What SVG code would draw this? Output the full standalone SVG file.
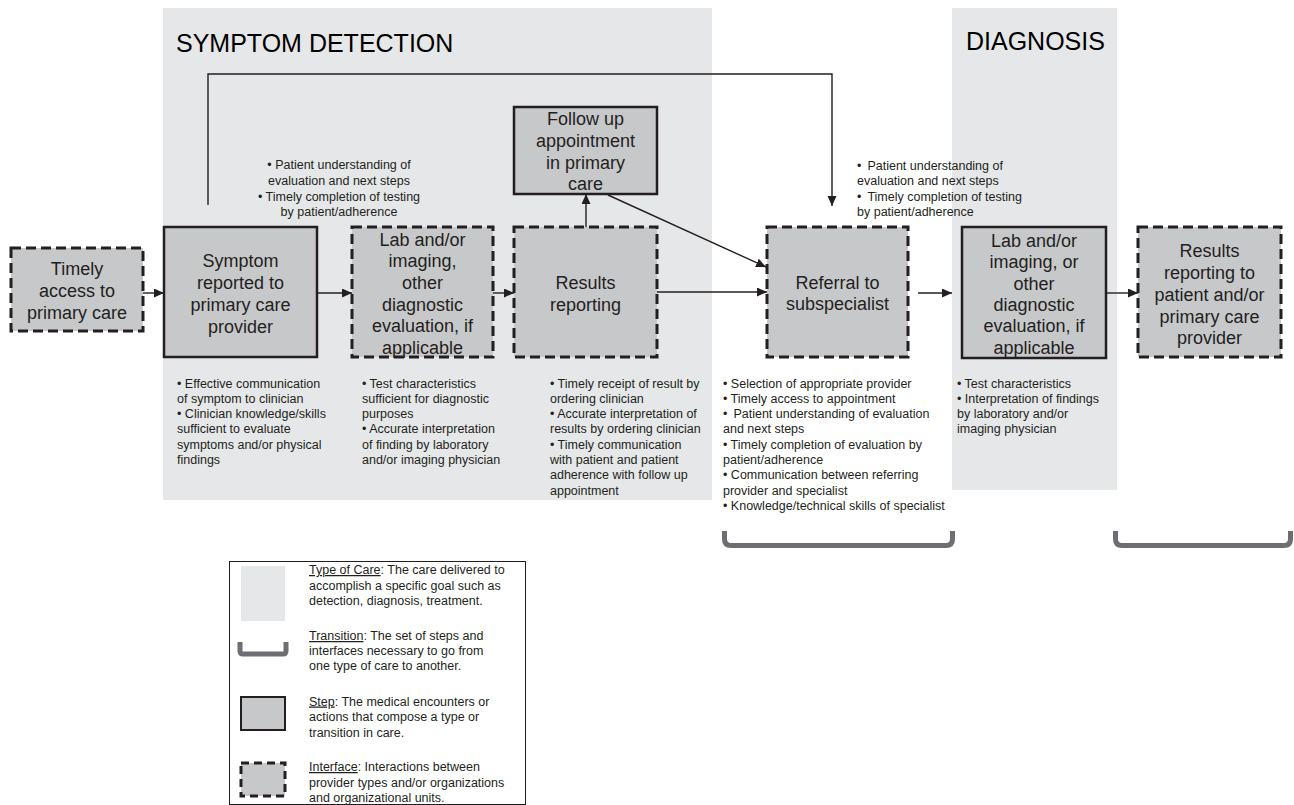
<svg xmlns="http://www.w3.org/2000/svg" width="1294" height="805" viewBox="0 0 1294 805">
<style>
.panel{fill:#e6e7e8}
.step{fill:#c7c8ca;stroke:#231f20;stroke-width:2.5}
.iface{fill:#c7c8ca;stroke:#231f20;stroke-width:3;stroke-dasharray:10 5}
.nt{font-family:"Liberation Sans",Arial,sans-serif;font-size:18px;fill:#231f20;text-anchor:middle}
.title{font-family:"Liberation Sans",Arial,sans-serif;font-size:25px;fill:#000}
.sm{font-family:"Liberation Sans",Arial,sans-serif;font-size:12.5px;fill:#231f20}
.mid{text-anchor:middle}
.conn{fill:none;stroke:#231f20;stroke-width:1.4}
.br{fill:none;stroke:#6d6e71;stroke-width:5;stroke-linecap:butt}
.u{text-decoration:underline}
</style>
<defs>
<marker id="ah" markerUnits="userSpaceOnUse" markerWidth="11" markerHeight="10" refX="10" refY="4.5" orient="auto">
<path d="M0,0 L10,4.5 L0,9 z" fill="#231f20"/>
</marker>
</defs>

<g id="panels">
<rect class="panel" x="163" y="8" width="549" height="492"/>
<rect class="panel" x="952" y="8" width="165" height="482"/>
<text class="title" x="176" y="52">SYMPTOM DETECTION</text>
<text class="title" x="966" y="50">DIAGNOSIS</text>
</g>

<g id="connectors">
<path class="conn" d="M143,293 L164,293" marker-end="url(#ah)"/>
<path class="conn" d="M317,293 L352,293" marker-end="url(#ah)"/>
<path class="conn" d="M493,293 L514,293" marker-end="url(#ah)"/>
<path class="conn" d="M586,227 L586,194" marker-end="url(#ah)"/>
<path class="conn" d="M608,195 L766,267" marker-end="url(#ah)"/>
<path class="conn" d="M657,292 L767,292" marker-end="url(#ah)"/>
<path class="conn" d="M208,205 L208,74 L832,74 L832,206" marker-end="url(#ah)"/>
<path class="conn" d="M918,293 L952,293" marker-end="url(#ah)"/>
<path class="conn" d="M1106,293 L1138,293" marker-end="url(#ah)"/>
</g>

<g id="node-timely">
<rect class="iface" x="11" y="248" width="132" height="83"/>
<text class="nt" x="77" y="274.5">Timely</text>
<text class="nt" x="77" y="296.5">access to</text>
<text class="nt" x="77" y="318.5">primary care</text>
</g>

<g id="node-symptom">
<rect class="step" x="164" y="227" width="153" height="130"/>
<text class="nt" x="240.5" y="266.5">Symptom</text>
<text class="nt" x="240.5" y="288.5">reported to</text>
<text class="nt" x="240.5" y="310.5">primary care</text>
<text class="nt" x="240.5" y="332.5">provider</text>
</g>

<g id="node-lab1">
<rect class="iface" x="352" y="227" width="141" height="130"/>
<text class="nt" x="422.5" y="245.5">Lab and/or</text>
<text class="nt" x="422.5" y="267">imaging,</text>
<text class="nt" x="422.5" y="288.5">other</text>
<text class="nt" x="422.5" y="310.5">diagnostic</text>
<text class="nt" x="422.5" y="332">evaluation, if</text>
<text class="nt" x="422.5" y="353.5">applicable</text>
</g>

<g id="node-results">
<rect class="iface" x="514" y="227" width="143" height="130"/>
<text class="nt" x="585.5" y="288.5">Results</text>
<text class="nt" x="585.5" y="310.5">reporting</text>
</g>

<g id="node-followup">
<rect class="step" x="514" y="107" width="143" height="87"/>
<text class="nt" x="585.5" y="124.5">Follow up</text>
<text class="nt" x="585.5" y="146.5">appointment</text>
<text class="nt" x="585.5" y="168.5">in primary</text>
<text class="nt" x="585.5" y="189.5">care</text>
</g>

<g id="node-referral">
<rect class="iface" x="767" y="227" width="141" height="130"/>
<text class="nt" x="837.5" y="288.5">Referral to</text>
<text class="nt" x="837.5" y="310">subspecialist</text>
</g>

<g id="node-lab2">
<rect class="step" x="962" y="227" width="144" height="131"/>
<text class="nt" x="1034" y="246.5">Lab and/or</text>
<text class="nt" x="1034" y="268">imaging, or</text>
<text class="nt" x="1034" y="289.5">other</text>
<text class="nt" x="1034" y="310.5">diagnostic</text>
<text class="nt" x="1034" y="332">evaluation, if</text>
<text class="nt" x="1034" y="353.5">applicable</text>
</g>

<g id="node-results2">
<rect class="iface" x="1138" y="227" width="143" height="130"/>
<text class="nt" x="1209.5" y="256.5">Results</text>
<text class="nt" x="1209.5" y="278.5">reporting to</text>
<text class="nt" x="1209.5" y="300.5">patient and/or</text>
<text class="nt" x="1209.5" y="322.5">primary care</text>
<text class="nt" x="1209.5" y="343.5">provider</text>
</g>

<g id="notes-top">
<text class="sm mid" x="339" y="168.5">• Patient understanding of</text>
<text class="sm mid" x="339" y="184.5">evaluation and next steps</text>
<text class="sm mid" x="339" y="200.5">• Timely completion of testing</text>
<text class="sm mid" x="339" y="215.5">by patient/adherence</text>
<text class="sm" x="857" y="169.5">•<tspan dx="6">Patient understanding of</tspan></text>
<text class="sm" x="857" y="184.5">evaluation and next steps</text>
<text class="sm" x="857" y="200.5">•<tspan dx="6">Timely completion of testing</tspan></text>
<text class="sm" x="857" y="215.5">by patient/adherence</text>
</g>

<g id="notes-bottom">
<text class="sm" x="177" y="387.5">• Effective communication</text>
<text class="sm" x="177" y="402.8">of symptom to clinician</text>
<text class="sm" x="177" y="418.1">• Clinician knowledge/skills</text>
<text class="sm" x="177" y="433.4">sufficient to evaluate</text>
<text class="sm" x="177" y="448.7">symptoms and/or physical</text>
<text class="sm" x="177" y="464">findings</text>

<text class="sm" x="362" y="387.5">• Test characteristics</text>
<text class="sm" x="362" y="402.8">sufficient for diagnostic</text>
<text class="sm" x="362" y="418.1">purposes</text>
<text class="sm" x="362" y="433.4">• Accurate interpretation</text>
<text class="sm" x="362" y="448.7">of finding by laboratory</text>
<text class="sm" x="362" y="464">and/or imaging physician</text>

<text class="sm" x="550" y="387.5">• Timely receipt of result by</text>
<text class="sm" x="550" y="402.8">ordering clinician</text>
<text class="sm" x="550" y="418.1">• Accurate interpretation of</text>
<text class="sm" x="550" y="433.4">results by ordering clinician</text>
<text class="sm" x="550" y="448.7">• Timely communication</text>
<text class="sm" x="550" y="464">with patient and patient</text>
<text class="sm" x="550" y="479.3">adherence with follow up</text>
<text class="sm" x="550" y="494.6">appointment</text>

<text class="sm" x="723" y="387.5">• Selection of appropriate provider</text>
<text class="sm" x="723" y="402.8">• Timely access to appointment</text>
<text class="sm" x="723" y="418.1">•<tspan dx="6">Patient understanding of evaluation</tspan></text>
<text class="sm" x="723" y="433.4">and next steps</text>
<text class="sm" x="723" y="448.7">• Timely completion of evaluation by</text>
<text class="sm" x="723" y="464">patient/adherence</text>
<text class="sm" x="723" y="479.3">• Communication between referring</text>
<text class="sm" x="723" y="494.6">provider and specialist</text>
<text class="sm" x="723" y="509.9">• Knowledge/technical skills of specialist</text>

<text class="sm" x="957" y="387.5">• Test characteristics</text>
<text class="sm" x="957" y="402.8">• Interpretation of findings</text>
<text class="sm" x="957" y="418.1">by laboratory and/or</text>
<text class="sm" x="957" y="433.4">imaging physician</text>
</g>

<g id="transitions">
<path class="br" d="M724.5,531 L724.5,539 Q724.5,545.5 731,545.5 L946,545.5 Q952.5,545.5 952.5,539 L952.5,531"/>
<path class="br" d="M1115.5,531 L1115.5,539 Q1115.5,545.5 1122,545.5 L1284,545.5 Q1290.5,545.5 1290.5,539 L1290.5,531"/>
</g>

<g id="legend">
<rect x="229.5" y="561.5" width="296" height="243" fill="#fff" stroke="#231f20" stroke-width="1"/>
<rect class="panel" x="241" y="566" width="44" height="55"/>
<path d="M240,642 L240,651 Q240,654 243,654 L283,654 Q286,654 286,651 L286,642" fill="none" stroke="#6d6e71" stroke-width="5"/>
<rect x="241" y="697" width="44" height="33" fill="#c7c8ca" stroke="#231f20" stroke-width="2"/>
<rect x="241" y="763" width="44" height="33" fill="#c7c8ca" stroke="#231f20" stroke-width="3" stroke-dasharray="8 5"/>
<text class="sm" x="309" y="574"><tspan class="u">Type of Care</tspan>: The care delivered to</text>
<text class="sm" x="309" y="589.5">accomplish a specific goal such as</text>
<text class="sm" x="309" y="605">detection, diagnosis, treatment.</text>
<text class="sm" x="309" y="640"><tspan class="u">Transition</tspan>: The set of  steps and</text>
<text class="sm" x="309" y="655">interfaces necessary to go from</text>
<text class="sm" x="309" y="670">one type of care to another.</text>
<text class="sm" x="309" y="705.5"><tspan class="u">Step</tspan>: The medical encounters or</text>
<text class="sm" x="309" y="721">actions that compose a type or</text>
<text class="sm" x="309" y="736.5">transition in care.</text>
<text class="sm" x="309" y="771"><tspan class="u">Interface</tspan>: Interactions between</text>
<text class="sm" x="309" y="786.5">provider types and/or organizations</text>
<text class="sm" x="309" y="802">and organizational units.</text>
</g>
</svg>
